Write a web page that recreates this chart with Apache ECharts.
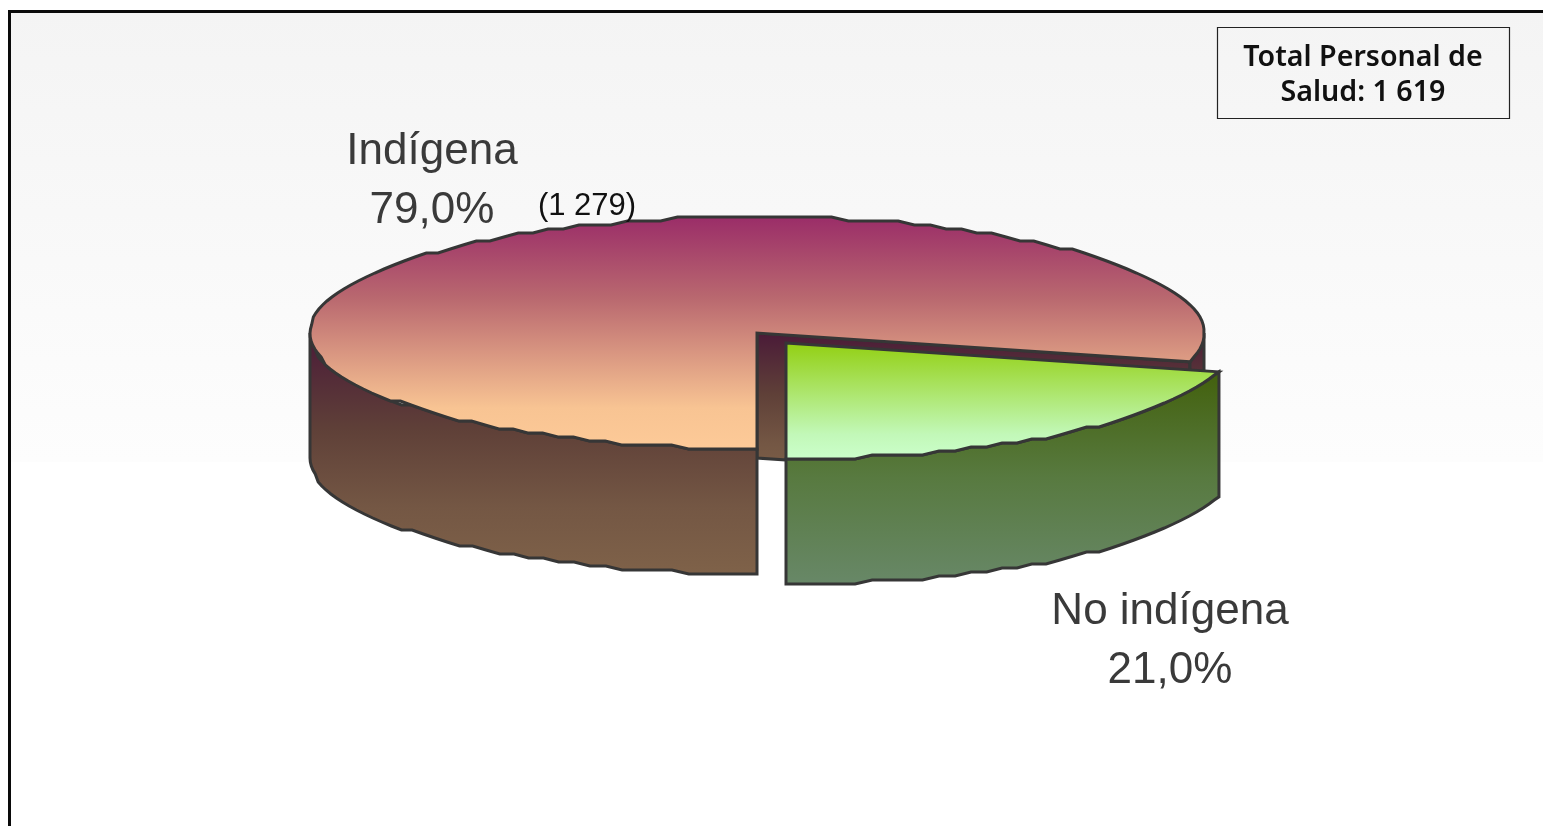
<!DOCTYPE html>
<html>
<head>
<meta charset="utf-8">
<style>html,body{margin:0;padding:0;background:#fff}#c{width:1543px;height:826px}</style>
<script src="https://cdn.jsdelivr.net/npm/echarts@6/dist/echarts.min.js"></script>
</head>
<body>
<div id="c"></div>
<script>
const categories = ['Indígena', 'No indígena'];
const counts = [1279, 340];
const percents = ['79,0%', '21,0%'];
const countNote = '(1 279)';
const totalNote = 'Total Personal de\nSalud: 1 619';

const total = counts.reduce((a, b) => a + b, 0);
const GEO = { cx: 757, cy: 333, rx: 447, ry: 116, depth: 125, step: 4, segs: 2.2 };
const explode = [[0, 0], [29, 10]];
const vgrad = (stops) => ({ type: 'linear', x: 0, y: 0, x2: 0, y2: 1,
  colorStops: stops.map(s => ({ offset: s[0], color: s[1] })) });
const styles = [
  { top: vgrad([[0, '#9a2c68'], [0.35, '#b9686f'], [0.82, '#f8c493'], [1, '#fdca98']]),
    side: vgrad([[0, '#4a1a38'], [0.4, '#5f4038'], [0.72, '#745744'], [1, '#7f6249']]) },
  { top: vgrad([[0, '#92cf10'], [0.78, '#c2f8b8'], [1, '#ccffcc']]),
    side: vgrad([[0, '#42600c'], [0.5, '#587a40'], [1, '#688868']]) }
];
const STROKE = { stroke: '#363636', lineWidth: 3, lineJoin: 'miter' };

function arc(a0, a1, ox, oy, dz) {
  const pts = [];
  const n = Math.max(2, Math.round((a1 - a0) / GEO.segs));
  for (let i = 0; i <= n; i++) {
    const t = (a0 + (a1 - a0) * i / n) * Math.PI / 180;
    const x = GEO.cx + ox + GEO.rx * Math.cos(t);
    let dy = GEO.ry * Math.sin(t);
    if (i > 0 && i < n) dy = Math.round(dy / GEO.step) * GEO.step;
    pts.push([x, GEO.cy + oy + dy + dz]);
  }
  return pts;
}
// visible part of the outer wall: screen-lower half of the ellipse (sin t > 0)
function sideRanges(a0, a1) {
  const out = [];
  [[0, 180], [360, 540]].forEach(r => {
    const s = Math.max(a0, r[0]), e = Math.min(a1, r[1]);
    if (e > s) out.push([s, e]);
  });
  return out;
}

function renderItem(params, api) {
  const i = params.dataIndex;
  const v = api.value(0);
  let before = 0;
  for (let k = 0; k < i; k++) before += counts[k];
  const a0 = 90 + before / total * 360;
  const a1 = a0 + v / total * 360;
  const ox = explode[i][0], oy = explode[i][1];
  const ax = GEO.cx + ox, ay = GEO.cy + oy, d = GEO.depth;
  const children = [];
  const poly = (points, fill) => children.push({
    type: 'polygon', shape: { points }, style: Object.assign({ fill }, STROKE)
  });
  const endP = arc(a1, a1, ox, oy, 0)[0];
  if (i === 0) {
    // cut wall running from the centre to the slice's trailing edge
    poly([[ax, ay], endP, [endP[0], endP[1] + d], [ax, ay + d]], styles[i].side);
  }
  sideRanges(a0, a1).forEach(r => {
    const up = arc(r[0], r[1], ox, oy, 0);
    const low = arc(r[0], r[1], ox, oy, d).reverse();
    poly(up.concat(low), styles[i].side);
  });
  poly([[ax, ay]].concat(arc(a0, a1, ox, oy, 0)), styles[i].top);
  return { type: 'group', children };
}

const chart = echarts.init(document.getElementById('c'), null, { renderer: 'canvas' });
const labelFont = 'Liberation Sans, Arial, sans-serif';
chart.setOption({
  animation: false,
  graphic: [
    { type: 'rect', z: -5, silent: true, shape: { x: 9, y: 11, width: 1600, height: 451 },
      style: { fill: vgrad([[0, '#f4f4f4'], [1, '#fdfdfd']]) } },
    { type: 'rect', z: -4, silent: true, shape: { x: 9.5, y: 11.5, width: 1600, height: 900 },
      style: { fill: 'none', stroke: '#0a0a0a', lineWidth: 3 } },
    { type: 'rect', z: 5, silent: true, shape: { x: 1217.5, y: 27.5, width: 292, height: 91 },
      style: { fill: 'none', stroke: '#222', lineWidth: 1.2 } },
    { type: 'text', z: 6, silent: true, style: { x: 1363, y: 75, text: totalNote, fill: '#111',
      font: '600 28.6px "Noto Sans", sans-serif', lineHeight: 35, align: 'center', verticalAlign: 'middle' } },
    { type: 'text', z: 6, silent: true, style: { x: 432, y: 181, text: categories[0] + '\n' + percents[0], fill: '#3a3a3a',
      font: '44px ' + labelFont, lineHeight: 59, align: 'center', verticalAlign: 'middle' } },
    { type: 'text', z: 6, silent: true, style: { x: 587, y: 206, text: countNote, fill: '#111',
      font: '31px ' + labelFont, align: 'center', verticalAlign: 'middle' } },
    { type: 'text', z: 6, silent: true, style: { x: 1170, y: 641, text: categories[1] + '\n' + percents[1], fill: '#3a3a3a',
      font: '44px ' + labelFont, lineHeight: 59, align: 'center', verticalAlign: 'middle' } }
  ],
  series: [{
    type: 'custom',
    coordinateSystem: 'none',
    renderItem,
    silent: true,
    data: counts.map((v, i) => ({ name: categories[i], value: [v] }))
  }]
});
</script>
</body>
</html>
